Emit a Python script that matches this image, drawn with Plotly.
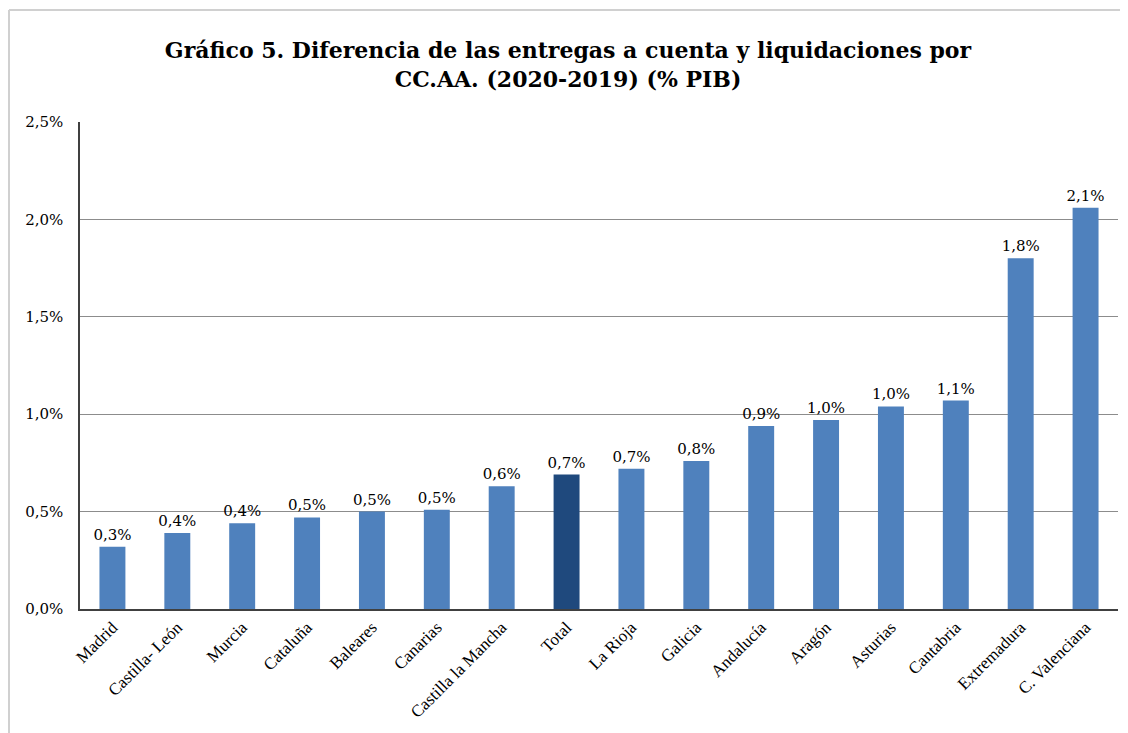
import plotly.graph_objects as go

regions = ["Madrid", "Castilla- León", "Murcia", "Cataluña", "Baleares", "Canarias",
           "Castilla la Mancha", "Total", "La Rioja", "Galicia", "Andalucía", "Aragón",
           "Asturias", "Cantabria", "Extremadura", "C. Valenciana"]
values = [0.32, 0.39, 0.44, 0.47, 0.50, 0.51, 0.63, 0.69, 0.72, 0.76, 0.94, 0.97,
          1.04, 1.07, 1.80, 2.06]
tick_vals = [0.0, 0.5, 1.0, 1.5, 2.0, 2.5]
tick_text = ["0,0%", "0,5%", "1,0%", "1,5%", "2,0%", "2,5%"]

colors = ["#1F497D" if r == "Total" else "#4F81BD" for r in regions]

# page has an 8px body margin; plot area on page: x 80..1118, y 122..609
PW, PH = 1038.0, 487.0

fig = go.Figure(go.Bar(
    x=regions, y=values, marker_color=colors, marker_line_width=0,
    texttemplate="%{y:.1f}%", textposition="outside", cliponaxis=False,
    constraintext="none",
    textfont=dict(family="DejaVu Serif", size=15, color="#000000"),
))

fig.update_layout(
    width=1120, height=725,
    paper_bgcolor="white", plot_bgcolor="white",
    margin=dict(l=72, r=10, t=114, b=124, autoexpand=False),
    separators=",.",
    bargap=0.6,
    showlegend=False,
    title=dict(
        text="<b>Gráfico 5. Diferencia de las entregas a cuenta y liquidaciones por<br>CC.AA. (2020-2019) (% PIB)</b>",
        x=0.5, xanchor="center", y=0.931, yanchor="middle",
        font=dict(family="DejaVu Serif", size=22, color="#000000"),
    ),
    xaxis=dict(
        tickangle=-45, showline=True, linecolor="#404040", linewidth=1.5,
        tickfont=dict(family="Liberation Serif", size=17, color="#000000"),
        ticks="", showgrid=False, automargin=False,
    ),
    yaxis=dict(
        range=[0, 2.5], tickvals=tick_vals, ticktext=tick_text,
        showline=True, linecolor="#404040", linewidth=1.5,
        showgrid=True, gridcolor="#8C8C8C", gridwidth=1,
        tickfont=dict(family="DejaVu Serif", size=15, color="#000000"),
        ticks="", ticklen=0, ticklabelstandoff=12, zeroline=False, automargin=False,
    ),
    shapes=[
        dict(type="line", xref="paper", yref="paper",
             x0=-71 / PW, x1=1 + 20 / PW,
             y0=1 + 112 / PH, y1=1 + 112 / PH,
             line=dict(color="#D0D0D0", width=2)),
        dict(type="line", xref="paper", yref="paper",
             x0=-71 / PW, x1=-71 / PW,
             y0=1 + 112 / PH, y1=-130 / PH,
             line=dict(color="#D0D0D0", width=2)),
    ],
)

fig.write_html("out.html")
